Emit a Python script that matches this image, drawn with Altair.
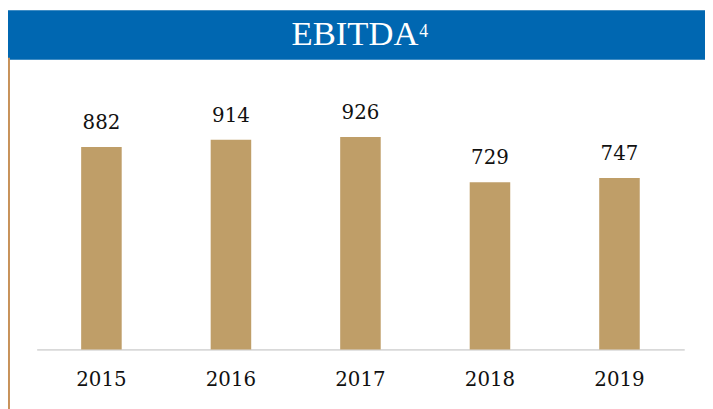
import altair as alt
import pandas as pd

years = ["2015", "2016", "2017", "2018", "2019"]
ebitda = [882, 914, 926, 729, 747]
title_main = "EBITDA"
title_sup = "4"

BAR = "#BF9E68"
BLUE = "#0067B1"
FONT = "Liberation Serif"
NUMFONT = "DejaVu Serif"

df = pd.DataFrame({"year": years, "value": ebitda})
one = pd.DataFrame({"t": [title_main], "s": [title_sup]})

x = alt.X("year:N", sort=years,
          scale=alt.Scale(paddingInner=0.687, paddingOuter=0.3435),
          axis=alt.Axis(title=None, labelAngle=0, ticks=False, tickSize=0,
                        labelPadding=21, labelFontSize=20, labelFont=NUMFONT,
                        labelColor="#111111", domainColor="#D9D9D9",
                        domainWidth=2, grid=False))
y = alt.Y("value:Q", scale=alt.Scale(domain=[0, 1000], nice=False), axis=None)

bars = alt.Chart(df).mark_bar(color=BAR).encode(x=x, y=y)
labels = alt.Chart(df).mark_text(dy=-18, baseline="alphabetic", fontSize=20,
                                 font=NUMFONT, color="#111111").encode(
    x=alt.X("year:N", sort=years), y="value:Q", text="value:Q")

header = alt.Chart(one).mark_rect(color=BLUE).encode(
    x=alt.value(-29), x2=alt.value(676), y=alt.value(-111), y2=alt.value(-61))
side = alt.Chart(one).mark_rule(color="#C8925A", strokeWidth=2).encode(
    x=alt.value(-28), y=alt.value(-63), y2=alt.value(300))
title = alt.Chart(one).mark_text(font=FONT, fontSize=35, color="white",
                                 align="center", baseline="alphabetic").encode(
    x=alt.value(322), y=alt.value(-76), text="t:N")
sup = alt.Chart(one).mark_text(font=FONT, fontSize=18, color="white",
                               align="left", baseline="alphabetic").encode(
    x=alt.value(387), y=alt.value(-84), text="s:N")

chart = alt.layer(header, side, bars, labels, title, sup).properties(
    width=655, height=232,
    autosize=alt.AutoSizeParams(type="none"),
    padding={"left": 29, "top": 111, "right": 21, "bottom": 58},
).configure(background="white").configure_view(strokeWidth=0, stroke=None)

chart.save("out.html", embed_options={"renderer": "svg", "actions": False})
